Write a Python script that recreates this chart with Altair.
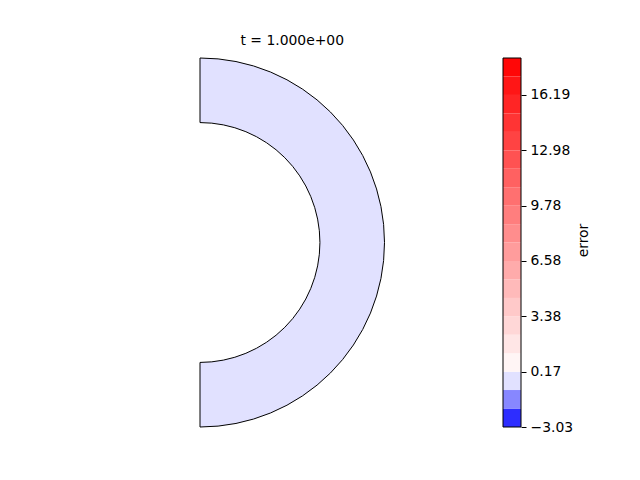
import math
import altair as alt
import pandas as pd

# ---- data ----
title_text = "t = 1.000e+00"
r_inner = [0.65]
r_outer = [1.0]
theta_start = [0.0]
theta_end = [math.pi]
error_value = [-0.35]

levels = [-3.03, -1.96, -0.89, 0.17, 1.24, 2.31, 3.38, 4.44, 5.51, 6.58, 7.65,
          8.71, 9.78, 10.85, 11.92, 12.98, 14.05, 15.12, 16.19, 17.26, 18.33]
tick_values = [-3.03, 0.17, 3.38, 6.58, 9.78, 12.98, 16.19]
cbar_label = "error"

# ---- colours (bwr with a two-slope norm centred on 0) ----
vmin, vmax = levels[0], levels[-1]


def bwr(v):
    if v < 0:
        t = 0.5 * (1 - v / vmin)
    else:
        t = 0.5 + 0.5 * v / vmax
    if t < 0.5:
        c = 2 * t
        r, g, b = c, c, 1.0
    else:
        c = 2 * (1 - t)
        r, g, b = 1.0, c, c
    return "#%02x%02x%02x" % (round(r * 255), round(g * 255), round(b * 255))


band_colors = [bwr((levels[i] + levels[i + 1]) / 2) for i in range(len(levels) - 1)]
color_scale = alt.Scale(type="threshold", domain=levels[1:-1], range=band_colors)

FONT = "DejaVu Sans"
FS = 13.9
PX = 184.5  # pixels per data unit in main panel

# ---- main panel ----
main_w, main_h = 480, 464
cx_px, cy_px = 192, 234.5
x_dom = [-cx_px / PX, (main_w - cx_px) / PX]
y_dom = [-(main_h - cy_px) / PX, cy_px / PX]

ring = pd.DataFrame({
    "x": [0.0], "y": [0.0],
    "t0": theta_start, "t1": theta_end,
    "r0": r_inner, "r1": r_outer,
    "error": error_value,
})

xs = alt.Scale(domain=x_dom, nice=False, zero=False)
ys = alt.Scale(domain=y_dom, nice=False, zero=False)

arc = alt.Chart(ring).mark_arc(stroke="black", strokeWidth=1).encode(
    x=alt.X("x:Q", scale=xs, axis=None),
    y=alt.Y("y:Q", scale=ys, axis=None),
    theta=alt.Theta("t0:Q", scale=None, stack=None),
    theta2="t1:Q",
    radius=alt.Radius("r1:Q", scale=alt.Scale(type="linear", domain=[0, 1], range=[0, PX], zero=True)),
    radius2="r0:Q",
    color=alt.Color("error:Q", scale=color_scale, legend=None),
)

title_df = pd.DataFrame({"x": [0.5], "y": [(cy_px - 33) / PX], "label": [title_text]})
title = alt.Chart(title_df).mark_text(font=FONT, fontSize=FS, color="black", baseline="middle", align="center").encode(
    x=alt.X("x:Q", scale=xs, axis=None),
    y=alt.Y("y:Q", scale=ys, axis=None),
    text="label:N",
)

main = alt.layer(arc, title).properties(width=main_w, height=main_h)

# ---- colorbar ----
cb_w, cb_h = 18, 464
top_px, bot_px = 50, 419
ppu = (bot_px - top_px) / (vmax - vmin)
cb_dom = [vmin - (cb_h - bot_px) / ppu, vmax + top_px / ppu]

bands = pd.DataFrame({
    "lo": levels[:-1],
    "hi": levels[1:],
    "mid": [(levels[i] + levels[i + 1]) / 2 for i in range(len(levels) - 1)],
})
frame = pd.DataFrame({"lo": [vmin], "hi": [vmax]})

cbs = alt.Scale(domain=cb_dom, nice=False, zero=False)

cb_rects = alt.Chart(bands).mark_rect(strokeWidth=0).encode(
    x=alt.value(0), x2=alt.value(cb_w),
    y=alt.Y("lo:Q", scale=cbs, axis=alt.Axis(
        orient="right", values=tick_values, domain=False, grid=False,
        tickColor="black", tickSize=5, tickWidth=1,
        labelFont=FONT, labelFontSize=FS, labelColor="black", labelPadding=4,
        labelExpr="replace(format(datum.value, '.2f'), '-', '\u2212')",
        title=cbar_label, titleFont=FONT, titleFontSize=FS, titleFontWeight="normal",
        titleColor="black", titleAngle=270, titleX=62, titleY=232,
        titleAlign="center", titleBaseline="middle",
    )),
    y2="hi:Q",
    color=alt.Color("mid:Q", scale=color_scale, legend=None),
)

cb_frame = alt.Chart(frame).mark_rect(fill=None, stroke="black", strokeWidth=1).encode(
    x=alt.value(0), x2=alt.value(cb_w),
    y=alt.Y("lo:Q", scale=cbs),
    y2="hi:Q",
)

cbar = alt.layer(cb_rects, cb_frame).properties(width=cb_w, height=cb_h)

chart = alt.hconcat(main, cbar, spacing=14).properties(
    padding=0, background="white"
).configure_view(stroke=None, strokeWidth=0)

chart.save("out.html", embed_options={"renderer": "svg", "actions": False})
